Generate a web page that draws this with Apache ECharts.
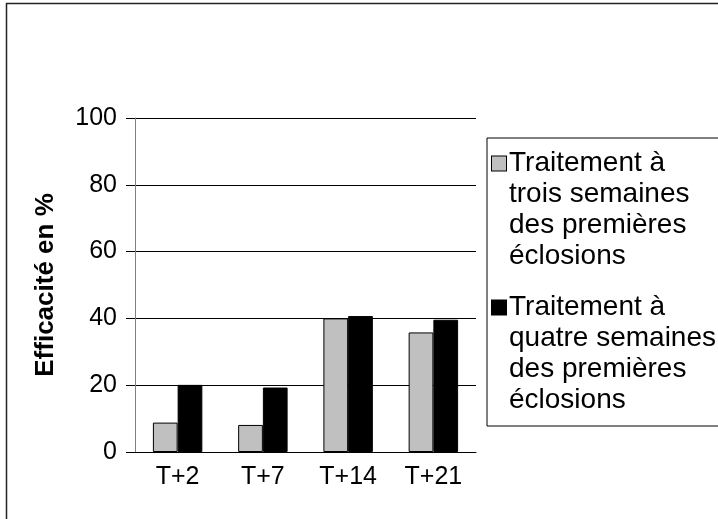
<!DOCTYPE html>
<html>
<head>
<meta charset="utf-8">
<script src="https://cdn.jsdelivr.net/npm/echarts@6/dist/echarts.min.js"></script>
<style>
  html, body { margin: 0; padding: 0; background: #fff; }
  #chart { width: 718px; height: 519px; }
</style>
</head>
<body>
<div id="chart"></div>
<script>
// Sampling dates after treatment
const categories = ['T+2', 'T+7', 'T+14', 'T+21'];

// Efficacy (%) for each treatment timing
const troisSemaines = [8.8, 8.1, 40.0, 35.8];
const quatreSemaines = [20.1, 19.3, 40.7, 39.6];

// Legend labels, one entry per line
const nomTroisSemaines = ['Traitement à', 'trois semaines', 'des premières', 'éclosions'];
const nomQuatreSemaines = ['Traitement à', 'quatre semaines', 'des premières', 'éclosions'];

const yMin = 0, yMax = 100, yStep = 20;

const FONT = '"Liberation Sans", Arial, Helvetica, sans-serif';
const colors = ['#c0c0c0', '#000000'];
const names = [nomTroisSemaines.join(' '), nomQuatreSemaines.join(' ')];
const lines = {};
lines[names[0]] = nomTroisSemaines;
lines[names[1]] = nomQuatreSemaines;

const chart = echarts.init(document.getElementById('chart'), null, { renderer: 'canvas' });

const legendRich = {
  txt: { fontFamily: FONT, fontSize: 28, lineHeight: 31, color: '#000' },
  gap: { width: 3, lineHeight: 31 },
  pad: { width: 17, lineHeight: 31 },
  box0: { width: 14, height: 14, backgroundColor: colors[0], borderColor: '#000', borderWidth: 1 },
  box1: { width: 14, height: 14, backgroundColor: colors[1], borderColor: '#000', borderWidth: 1 }
};

chart.setOption({
  animation: false,
  backgroundColor: '#fff',
  textStyle: { fontFamily: FONT },
  graphic: [{
    type: 'rect',
    shape: { x: 6.5, y: 3.5, width: 760, height: 560 },
    style: { fill: 'none', stroke: '#222', lineWidth: 1.5 },
    silent: true
  }],
  grid: { left: 135, top: 118, right: 242, bottom: 67, containLabel: false },
  legend: {
    orient: 'vertical',
    left: 487,
    top: 138,
    padding: [10, 40, 10, 0],
    itemGap: 20,
    icon: 'none',
    itemWidth: 0,
    itemHeight: 0,
    selectedMode: false,
    borderColor: '#000',
    borderWidth: 1,
    data: names,
    textStyle: { fontFamily: FONT, fontSize: 28, lineHeight: 31, rich: legendRich },
    formatter: function (name) {
      const idx = names.indexOf(name);
      return lines[name].map(function (l, i) {
        return (i === 0 ? '{box' + idx + '|}{gap|}' : '{pad|}') + '{txt|' + l + '}';
      }).join('\n');
    }
  },
  xAxis: {
    type: 'category',
    data: categories,
    axisLine: { lineStyle: { color: '#000', width: 1 } },
    axisTick: { length: 8, lineStyle: { color: '#000' } },
    axisLabel: { color: '#000', fontSize: 25, fontFamily: FONT, margin: 13 }
  },
  yAxis: {
    type: 'value',
    min: yMin,
    max: yMax,
    interval: yStep,
    name: 'Efficacité en %',
    nameLocation: 'middle',
    nameGap: 76,
    nameTextStyle: { color: '#000', fontSize: 26, fontWeight: 'bold', fontFamily: FONT },
    axisLine: { show: true, lineStyle: { color: '#808080', width: 1 } },
    axisTick: { show: true, length: 9, lineStyle: { color: '#000' } },
    axisLabel: { color: '#000', fontSize: 25, fontFamily: FONT, margin: 18 },
    splitLine: { show: true, lineStyle: { color: '#000', width: 1 } }
  },
  series: [
    {
      name: names[0],
      type: 'bar',
      data: troisSemaines,
      barGap: '0%',
      barCategoryGap: '42%',
      itemStyle: { color: colors[0], borderColor: '#000', borderWidth: 1 }
    },
    {
      name: names[1],
      type: 'bar',
      data: quatreSemaines,
      itemStyle: { color: colors[1], borderColor: '#000', borderWidth: 1 }
    }
  ]
});
</script>
</body>
</html>
